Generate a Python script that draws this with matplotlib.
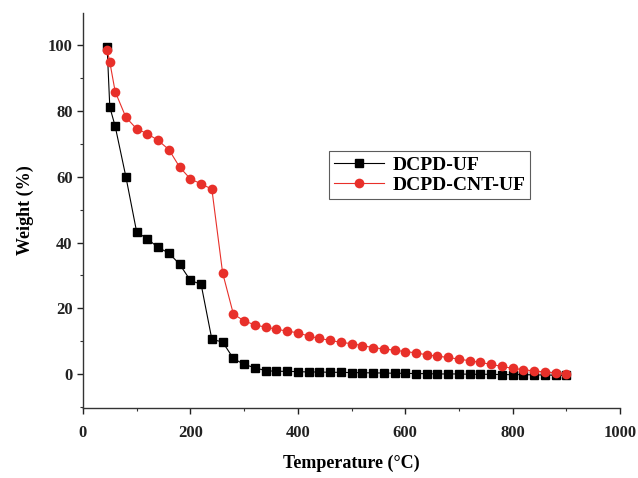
import matplotlib
matplotlib.use("Agg")
import matplotlib.pyplot as plt
from matplotlib.ticker import MultipleLocator

# Data
temp_uf = [45, 50, 60, 80, 100, 120, 140, 160, 180, 200, 220, 240, 260, 280, 300,
           320, 340, 360, 380, 400, 420, 440, 460, 480, 500, 520, 540, 560, 580,
           600, 620, 640, 660, 680, 700, 720, 740, 760, 780, 800, 820, 840, 860,
           880, 900]
weight_uf = [99.5, 81.1, 75.3, 59.9, 43.2, 41.1, 38.5, 36.8, 33.4, 28.5, 27.3, 10.6,
             9.8, 4.8, 3.0, 2.0, 1.1, 0.9, 0.9, 0.8, 0.7, 0.7, 0.6, 0.6, 0.5, 0.5,
             0.4, 0.4, 0.3, 0.3, 0.2, 0.2, 0.1, 0.1, 0.1, 0.0, 0.0, 0.0, -0.1, -0.1,
             -0.1, -0.2, -0.2, -0.3, -0.3]

temp_cnt = [45, 50, 60, 80, 100, 120, 140, 160, 180, 200, 220, 240, 260, 280, 300,
            320, 340, 360, 380, 400, 420, 440, 460, 480, 500, 520, 540, 560, 580,
            600, 620, 640, 660, 680, 700, 720, 740, 760, 780, 800, 820, 840, 860,
            880, 900]
weight_cnt = [98.5, 94.8, 85.8, 78.0, 74.5, 73.0, 71.0, 68.2, 62.9, 59.3, 57.8, 56.2,
              30.8, 18.3, 16.2, 15.0, 14.3, 13.7, 13.1, 12.6, 11.6, 10.9, 10.3, 9.7,
              9.3, 8.7, 8.1, 7.7, 7.3, 6.9, 6.5, 5.9, 5.5, 5.1, 4.6, 4.1, 3.6, 3.0,
              2.4, 1.8, 1.4, 1.0, 0.7, 0.4, 0.2]

series_labels = ["DCPD-UF", "DCPD-CNT-UF"]

plt.rcParams['font.family'] = ['Liberation Serif', 'DejaVu Serif']
plt.rcParams['font.weight'] = 'bold'

fig = plt.figure(figsize=(6.38, 4.78), dpi=100)
ax = fig.add_axes([0.130, 0.146, 0.842, 0.827])

ax.plot(temp_uf, weight_uf, color='black', marker='s', markersize=6,
        linewidth=0.8, label=series_labels[0], zorder=2)
ax.plot(temp_cnt, weight_cnt, color='#e8302a', marker='o', markersize=7,
        linewidth=0.8, markeredgewidth=0, label=series_labels[1], zorder=3)

ax.set_xlim(0, 1000)
ax.set_ylim(-10.3, 109.7)
ax.xaxis.set_major_locator(MultipleLocator(200))
ax.xaxis.set_minor_locator(MultipleLocator(100))
ax.yaxis.set_major_locator(MultipleLocator(20))
ax.yaxis.set_minor_locator(MultipleLocator(10))

for s in ['top', 'right']:
    ax.spines[s].set_visible(False)
for s in ['left', 'bottom']:
    ax.spines[s].set_linewidth(1.0)
    ax.spines[s].set_color('#333333')

ax.tick_params(which='major', direction='out', length=4, width=1.0, labelsize=12,
               colors='#222222')
ax.tick_params(which='minor', direction='out', length=2.5, width=0.8, colors='#333333')
ax.tick_params(axis='x', pad=8)
for lab in ax.get_xticklabels() + ax.get_yticklabels():
    lab.set_fontweight('bold')

ax.set_xlabel('Temperature (°C)', fontsize=13, fontweight='bold', labelpad=10)
ax.set_ylabel('Weight (%)', fontsize=13, fontweight='bold', labelpad=10)

leg = ax.legend(loc='upper left', bbox_to_anchor=(0.458, 0.65), fontsize=14,
                frameon=True, fancybox=False, edgecolor='#333333',
                borderpad=0.25, handlelength=2.6, labelspacing=0.15,
                handletextpad=0.4, borderaxespad=0)
leg.get_frame().set_linewidth(0.8)
for t in leg.get_texts():
    t.set_fontweight('bold')

fig.savefig('out.png', dpi=100)
